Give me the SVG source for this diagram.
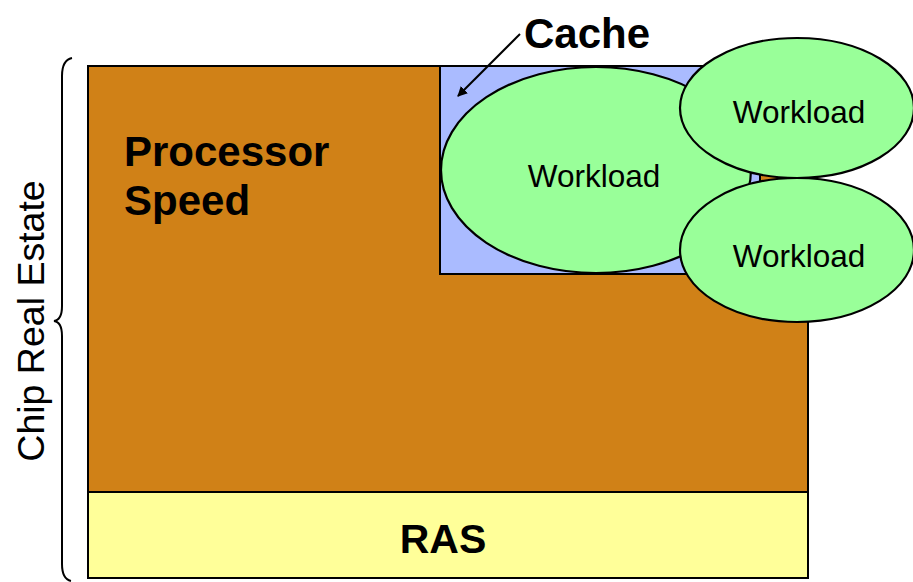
<svg xmlns="http://www.w3.org/2000/svg" width="913" height="582" viewBox="0 0 913 582">
<style>
.box{stroke:#000;stroke-width:2}
.ell{fill:#99FF99;stroke:#000;stroke-width:2.2}
.bold{font-family:"Liberation Sans",Arial,sans-serif;font-weight:bold;fill:#000}
.reg{font-family:"Liberation Sans",Arial,sans-serif;fill:#000}
</style>
<defs>
<marker id="ah" markerWidth="10" markerHeight="10" refX="9" refY="5" orient="auto" markerUnits="userSpaceOnUse" viewBox="0 0 10 10">
<path d="M0,0 L10,5 L0,10 z" fill="#000"/>
</marker>
</defs>
<rect width="913" height="582" fill="#fff"/>
<g id="processor">
<rect class="box" x="88" y="66" width="720" height="426" fill="#D08117"/>
<text class="bold" x="124" y="166" font-size="42">Processor</text>
<text class="bold" x="124" y="215" font-size="42">Speed</text>
</g>
<g id="ras">
<rect class="box" x="88" y="492" width="720" height="86" fill="#FFFF99"/>
<text class="bold" x="443" y="553" font-size="41" text-anchor="middle">RAS</text>
</g>
<g id="cache">
<rect class="box" x="440" y="66" width="320" height="208" fill="#AABBFF"/>
<text class="bold" x="587" y="48" font-size="42" text-anchor="middle">Cache</text>
</g>
<g id="workload-main">
<ellipse class="ell" cx="596" cy="170" rx="155" ry="103"/>
<text class="reg" x="594" y="187" font-size="31.5" text-anchor="middle">Workload</text>
</g>
<g id="workload-top">
<ellipse class="ell" cx="797" cy="108" rx="117" ry="70"/>
<text class="reg" x="799" y="123" font-size="31.5" text-anchor="middle">Workload</text>
</g>
<g id="workload-bottom">
<ellipse class="ell" cx="797" cy="250" rx="117" ry="72"/>
<text class="reg" x="799" y="267" font-size="31.5" text-anchor="middle">Workload</text>
</g>
<g id="chip-label">
<path d="M72,58 Q62,60 62,76 L62,306 Q62,320 54,321 Q62,322 62,336 L62,564 Q62,579 71,581" fill="none" stroke="#000" stroke-width="2"/>
<text class="reg" transform="translate(44,321) rotate(-90)" font-size="37.5" text-anchor="middle">Chip Real Estate</text>
</g>
<g id="connectors">
<line x1="520" y1="34" x2="458" y2="96" stroke="#000" stroke-width="2" marker-end="url(#ah)"/>
</g>
</svg>
